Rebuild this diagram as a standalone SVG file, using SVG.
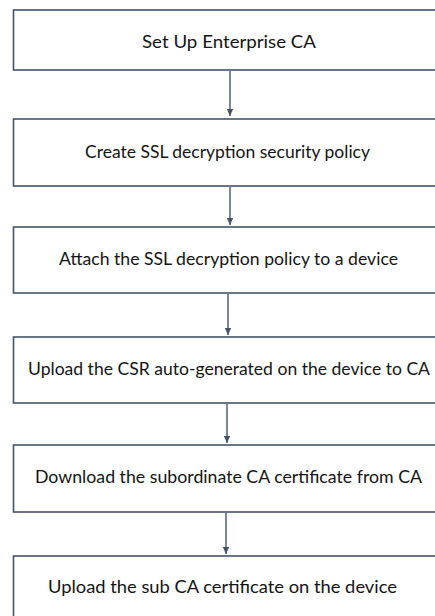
<svg xmlns="http://www.w3.org/2000/svg" width="435" height="616" viewBox="0 0 435 616">
  <defs>
    <style>
      .box { fill: #ffffff; stroke: #44546a; stroke-width: 1.6; }
      .lbl { font-family: "Lato", "Open Sans", "Liberation Sans", sans-serif; font-size: 17.5px; fill: #141414; }
      .conn { stroke: #44546a; stroke-width: 1.4; fill: none; marker-end: url(#arrow); }
    </style>
    <marker id="arrow" markerUnits="userSpaceOnUse" markerWidth="8" markerHeight="8" refX="7" refY="4" orient="auto">
      <path d="M0,0.8 L7,4 L0,7.2 Z" fill="#44546a"/>
    </marker>
  </defs>
  <rect width="435" height="616" fill="#ffffff"/>

  <g id="connectors">
    <line class="conn" x1="230" y1="71" x2="230" y2="116"/>
    <line class="conn" x1="230" y1="187" x2="230" y2="225"/>
    <line class="conn" x1="228" y1="294" x2="228" y2="335"/>
    <line class="conn" x1="227" y1="404" x2="227" y2="443"/>
    <line class="conn" x1="226" y1="513" x2="226" y2="554"/>
  </g>

  <g id="n1">
    <rect class="box" x="13.5" y="10" width="440" height="60"/>
    <text class="lbl" x="142" y="48" textLength="174" lengthAdjust="spacingAndGlyphs">Set Up Enterprise CA</text>
  </g>
  <g id="n2">
    <rect class="box" x="13.5" y="119" width="440" height="67"/>
    <text class="lbl" x="85" y="158" textLength="285" lengthAdjust="spacingAndGlyphs">Create SSL decryption security policy</text>
  </g>
  <g id="n3">
    <rect class="box" x="13.5" y="227" width="440" height="66"/>
    <text class="lbl" x="59" y="265" textLength="339" lengthAdjust="spacingAndGlyphs">Attach the SSL decryption policy to a device</text>
  </g>
  <g id="n4">
    <rect class="box" x="13.5" y="337" width="440" height="66"/>
    <text class="lbl" x="28" y="375" textLength="402" lengthAdjust="spacingAndGlyphs">Upload the CSR auto-generated on the device to CA</text>
  </g>
  <g id="n5">
    <rect class="box" x="13.5" y="445" width="440" height="67"/>
    <text class="lbl" x="35" y="483" textLength="387" lengthAdjust="spacingAndGlyphs">Download the subordinate CA certificate from CA</text>
  </g>
  <g id="n6">
    <rect class="box" x="13.5" y="556" width="440" height="80"/>
    <text class="lbl" x="48" y="593" textLength="349" lengthAdjust="spacingAndGlyphs">Upload the sub CA certificate on the device</text>
  </g>
</svg>
